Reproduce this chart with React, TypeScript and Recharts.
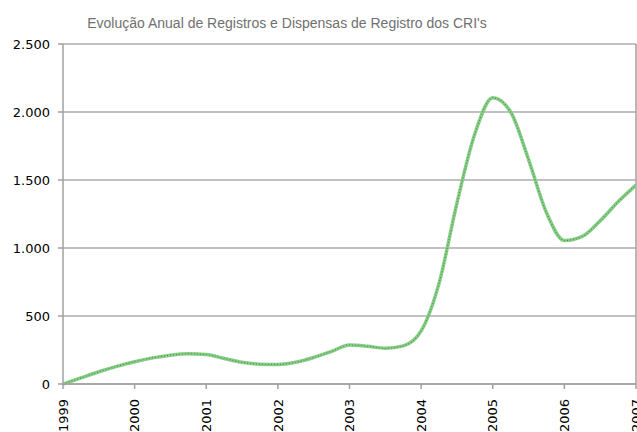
import React from "react";
import { LineChart, Line, XAxis, YAxis, CartesianGrid, ReferenceLine } from "recharts";

const years = [
  1999, 1999.25, 1999.5, 1999.75,
  2000, 2000.25, 2000.5, 2000.75,
  2001, 2001.25, 2001.5, 2001.75,
  2002, 2002.25, 2002.5, 2002.75,
  2003, 2003.25, 2003.5, 2003.75,
  2004, 2004.25, 2004.5, 2004.75,
  2005, 2005.25, 2005.5, 2005.75,
  2006, 2006.25, 2006.5, 2006.75,
  2007,
];
const values = [
  0, 45, 90, 130,
  164, 192, 212, 222,
  217, 188, 160, 146,
  144, 160, 195, 240,
  287, 278, 263, 280,
  390, 740, 1330, 1840,
  2105, 2000, 1650, 1260,
  1055, 1085, 1200, 1340,
  1463,
];
const xTicks = [1999, 2000, 2001, 2002, 2003, 2004, 2005, 2006, 2007];
const yTicks = [0, 500, 1000, 1500, 2000, 2500];
const title = "Evolução Anual de Registros e Dispensas de Registro dos CRI's";

const data = years.map((y, i) => ({ year: y, value: values[i] }));

const fmt = (v: number) => v.toLocaleString("de-DE");

const XTick = (props: any) => {
  const { x, y, payload } = props;
  return (
    <text
      transform={`translate(${x},${y + 8}) rotate(-90)`}
      textAnchor="end"
      dy="0.36em"
      fontFamily="DejaVu Sans, Verdana, sans-serif"
      fontSize={13}
      fill="#000"
    >
      {payload.value}
    </text>
  );
};

export default function App() {
  return (
    <div style={{ position: "absolute", left: 0, top: 0, background: "#fff" }}>
      <LineChart
        width={637}
        height={432}
        data={data}
        margin={{ top: 44, right: 1, left: 0, bottom: 0 }}
      >
        <text
          x={287}
          y={28}
          textAnchor="middle"
          fontFamily="Liberation Sans, Arial, sans-serif"
          fontSize={14}
          fill="#707070"
        >
          {title}
        </text>
        <CartesianGrid vertical={false} stroke="#ababab" strokeWidth={1.5} />
        <XAxis
          dataKey="year"
          type="number"
          domain={[1999, 2007]}
          ticks={xTicks}
          interval={0}
          height={48}
          stroke="#a0a0a0"
          strokeWidth={1.5}
          tickSize={5}
          tick={<XTick />}
          allowDataOverflow
        />
        <YAxis
          domain={[0, 2500]}
          ticks={yTicks}
          width={63}
          stroke="#a0a0a0"
          strokeWidth={1.5}
          tickSize={5}
          tickMargin={8}
          tickFormatter={fmt}
          tick={{ fill: "#000", fontSize: 13, fontFamily: "DejaVu Sans, Verdana, sans-serif" }}
          interval={0}
        />
        <ReferenceLine x={2007} stroke="#a0a0a0" strokeWidth={1.5} />
        <Line
          type="monotone"
          dataKey="value"
          stroke="#88cc88"
          strokeWidth={3.5}
          dot={false}
          isAnimationActive={false}
        />
        <Line
          type="monotone"
          dataKey="value"
          stroke="#3f9f3f"
          strokeWidth={1.2}
          strokeDasharray="1 2"
          dot={false}
          isAnimationActive={false}
        />
      </LineChart>
    </div>
  );
}
